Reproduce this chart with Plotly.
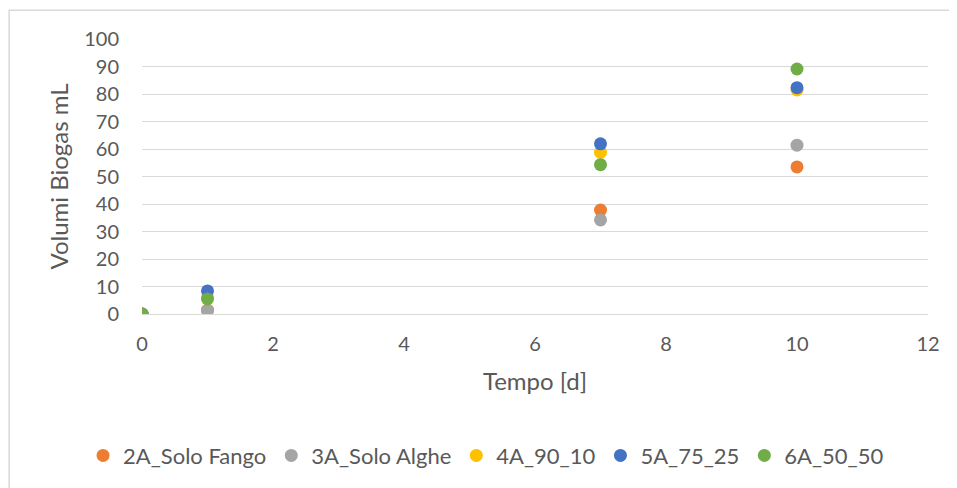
import plotly.graph_objects as go

# Giorni di misura
tempo = [0, 1, 7, 10]

# Volumi di biogas cumulati (mL) per ogni reattore
serie_nomi = ["2A_Solo Fango", "3A_Solo Alghe", "4A_90_10", "5A_75_25", "6A_50_50"]
v_2A = [0, 1.4, 37.8, 53.5]
v_3A = [0, 1.3, 34.2, 61.4]
v_4A = [0, 6.0, 58.8, 81.5]
v_5A = [0, 8.4, 61.9, 82.3]
v_6A = [0, 5.5, 54.3, 89.1]
serie_valori = [v_2A, v_3A, v_4A, v_5A, v_6A]

colori = ["#ED7D31", "#A5A5A5", "#FFC000", "#4472C4", "#70AD47"]

FONT = "Lato, 'Open Sans', sans-serif"
GRIGIO = "#595959"

fig = go.Figure()
for nome, valori, col in zip(serie_nomi, serie_valori, colori):
    fig.add_trace(go.Scatter(x=tempo, y=valori, mode="markers", name=nome,
                             marker=dict(color=col, size=13, line=dict(width=0))))

fig.update_layout(
    width=957, height=488,
    margin=dict(l=134, r=37, t=31, b=182, autoexpand=False),
    paper_bgcolor="white", plot_bgcolor="white",
    font=dict(family=FONT, size=20, color=GRIGIO),
    showlegend=True,
    legend=dict(orientation="h", x=-0.075, xanchor="left", y=-0.515, yanchor="middle",
                font=dict(size=22, color=GRIGIO), itemwidth=30, traceorder="normal"),
)
fig.update_xaxes(range=[0, 12], dtick=2, showgrid=False, zeroline=False, automargin=False,
                 showline=False, ticks="", ticklabelstandoff=16,
                 tickfont=dict(size=20, color=GRIGIO),
                 title=dict(text="Tempo [d]", font=dict(size=24, color=GRIGIO), standoff=19))
fig.update_yaxes(range=[0, 100], dtick=10, showgrid=True, gridcolor="#D9D9D9", gridwidth=1,
                 zeroline=True, zerolinecolor="#D9D9D9", zerolinewidth=1, automargin=False,
                 showline=False, ticks="", ticklabelstandoff=22,
                 tickfont=dict(size=20, color=GRIGIO),
                 title=dict(text="Volumi Biogas mL", font=dict(size=24, color=GRIGIO), standoff=8))

# bordo dell'area del grafico
fig.add_shape(type="rect", xref="paper", yref="paper",
              x0=-0.169, x1=1.2, y0=-1.0, y1=1.105,
              line=dict(color="#D9D9D9", width=1.5), fillcolor="rgba(0,0,0,0)", layer="below")

fig.write_html("out.html")
